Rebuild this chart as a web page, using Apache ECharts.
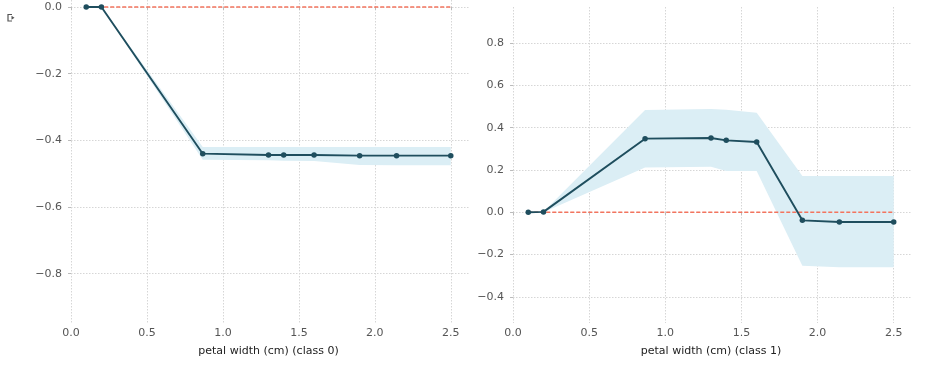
<!DOCTYPE html>
<html>
<head>
<meta charset="utf-8">
<script src="https://cdn.jsdelivr.net/npm/echarts@6/dist/echarts.min.js"></script>
<style>html,body{margin:0;padding:0;background:#fff}#c{width:940px;height:365px}</style>
</head>
<body>
<div id="c"></div>
<script>
// ---- data ----
var xVals = [0.1, 0.2, 0.867, 1.3, 1.4, 1.6, 1.9, 2.143, 2.5];
var pd0 = [0, 0, -0.440, -0.444, -0.444, -0.444, -0.446, -0.446, -0.446];
var lo0 = [0, 0, -0.458, -0.460, -0.461, -0.462, -0.474, -0.475, -0.475];
var hi0 = [0, 0, -0.420, -0.420, -0.420, -0.420, -0.420, -0.420, -0.420];
var pd1 = [0, 0.002, 0.348, 0.351, 0.340, 0.332, -0.038, -0.046, -0.046];
var lo1 = [0, 0, 0.212, 0.215, 0.195, 0.195, -0.252, -0.260, -0.260];
var hi1 = [0, 0.003, 0.483, 0.488, 0.485, 0.470, 0.171, 0.171, 0.171];
var xTicks = [0.0, 0.5, 1.0, 1.5, 2.0, 2.5];
var yTicks0 = [-0.8, -0.6, -0.4, -0.2, 0.0];
var yTicks1 = [-0.4, -0.2, 0.0, 0.2, 0.4, 0.6, 0.8];
var xNames = ['petal width (cm) (class 0)', 'petal width (cm) (class 1)'];

var chart = echarts.init(document.getElementById('c'));
function fmt(v) { return (v < -1e-9 ? '\u2212' : '') + Math.abs(v).toFixed(1); }
var FONT = 'DejaVu Sans';
var LINE = '#1f4e5e';
var BAND = '#dbeef5';
var RED = '#f4745e';
var GRIDC = '#d6d6d6';

function xAxis(i) {
  return {
    type: 'value', gridIndex: i, min: -0.02, max: 2.62,
    name: xNames[i], nameLocation: 'middle', nameGap: 23,
    nameTextStyle: { color: '#222', fontSize: 11, fontFamily: FONT },
    axisLine: { show: false },
    axisTick: { show: true, length: 3, lineStyle: { color: '#bbb' }, customValues: xTicks },
    axisLabel: { color: '#555', fontSize: 11, fontFamily: FONT, margin: 5, formatter: fmt, customValues: xTicks },
    splitLine: { show: true, lineStyle: { color: GRIDC, type: [1.5, 1.5], width: 1 } }
  };
}
function yAxis(i, mn, mx, ticks) {
  return {
    type: 'value', gridIndex: i, min: mn, max: mx,
    axisLine: { show: false },
    axisTick: { show: true, length: 3, lineStyle: { color: '#bbb' }, customValues: ticks },
    axisLabel: { color: '#555', fontSize: 11, fontFamily: FONT, margin: 6, formatter: fmt, customValues: ticks },
    splitLine: { show: true, lineStyle: { color: GRIDC, type: [1.5, 1.5], width: 1 } }
  };
}
function band(i, lo, hi) {
  return {
    type: 'custom', xAxisIndex: i, yAxisIndex: i, silent: true, z: 1,
    data: [[xVals[0], lo[0]]],
    encode: { x: 0, y: 1 },
    clip: true,
    renderItem: function (params, api) {
      var pts = [];
      for (var k = 0; k < xVals.length; k++) pts.push(api.coord([xVals[k], hi[k]]));
      for (var k2 = xVals.length - 1; k2 >= 0; k2--) pts.push(api.coord([xVals[k2], lo[k2]]));
      return { type: 'polygon', shape: { points: pts }, style: { fill: BAND, stroke: null } };
    }
  };
}
function zeroLine(i) {
  return {
    type: 'line', xAxisIndex: i, yAxisIndex: i, z: 2, silent: true,
    data: [[xVals[0], 0], [xVals[xVals.length - 1], 0]],
    symbol: 'none',
    lineStyle: { color: RED, width: 1.4, type: [4, 2] }
  };
}
function pdLine(i, ys) {
  return {
    type: 'line', xAxisIndex: i, yAxisIndex: i, z: 3,
    data: xVals.map(function (x, k) { return [x, ys[k]]; }),
    symbol: 'circle', symbolSize: 5.5, showSymbol: true,
    itemStyle: { color: LINE },
    lineStyle: { color: LINE, width: 1.9 }
  };
}

chart.setOption({
  animation: false,
  backgroundColor: '#fff',
  grid: [
    { left: 68, top: 0, width: 401, height: 323 },
    { left: 510, top: 7, width: 402, height: 316 }
  ],
  xAxis: [xAxis(0), xAxis(1)],
  yAxis: [yAxis(0, -0.948, 0.021, yTicks0), yAxis(1, -0.523, 0.97, yTicks1)],
  series: [
    band(0, lo0, hi0), zeroLine(0), pdLine(0, pd0),
    band(1, lo1, hi1), zeroLine(1), pdLine(1, pd1)
  ],
  graphic: [
    { type: 'polyline', shape: { points: [[12, 14.5], [8, 14.5], [8, 21], [12, 21]] }, style: { stroke: '#555', lineWidth: 1.2, fill: null } },
    { type: 'polygon', shape: { points: [[11.5, 15.8], [14.5, 17.8], [11.5, 19.8]] }, style: { fill: '#555' } }
  ]
});
</script>
</body>
</html>
